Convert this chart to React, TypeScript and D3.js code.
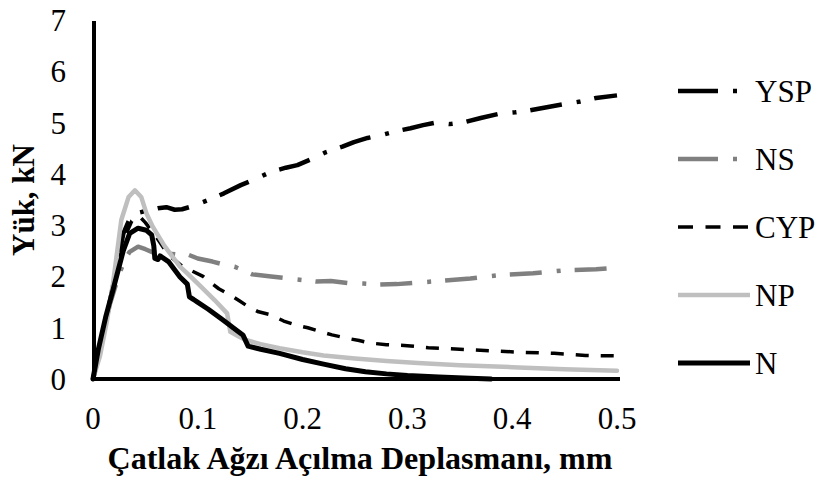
import React from "react";
import * as d3 from "d3";

type Pt = [number, number];

const seriesNames = ["YSP", "NS", "CYP", "NP", "N"];
const xTickValues = [0, 0.1, 0.2, 0.3, 0.4, 0.5];
const xTickLabels = ["0", "0.1", "0.2", "0.3", "0.4", "0.5"];
const yTickValues = [0, 1, 2, 3, 4, 5, 6, 7];
const yTickLabels = ["0", "1", "2", "3", "4", "5", "6", "7"];
const xTitle = "Çatlak Ağzı Açılma Deplasmanı, mm";
const yTitle = "Yük, kN";

const ysp: Pt[] = [
  [0, 0], [0.006, 0.5], [0.012, 1.1], [0.02, 1.9], [0.029, 2.84], [0.035, 3.12], [0.043, 3.24],
  [0.053, 3.29], [0.062, 3.33], [0.07, 3.35], [0.078, 3.3], [0.085, 3.31], [0.095, 3.37], [0.11, 3.49],
  [0.125, 3.62], [0.141, 3.78], [0.155, 3.9], [0.17, 4.04], [0.184, 4.12], [0.195, 4.17], [0.21, 4.3],
  [0.222, 4.42], [0.238, 4.53], [0.249, 4.62], [0.262, 4.7], [0.276, 4.76], [0.289, 4.83], [0.303, 4.89],
  [0.315, 4.95], [0.327, 5.0], [0.34, 4.97], [0.355, 5.01], [0.37, 5.09], [0.387, 5.17], [0.403, 5.2],
  [0.417, 5.24], [0.433, 5.3], [0.45, 5.36], [0.465, 5.41], [0.48, 5.48], [0.5, 5.53],
];

const ns: Pt[] = [
  [0, 0], [0.008, 0.75], [0.016, 1.45], [0.025, 2.05], [0.031, 2.35], [0.035, 2.48], [0.043, 2.58],
  [0.05, 2.53], [0.057, 2.47], [0.065, 2.45], [0.075, 2.44], [0.083, 2.42], [0.09, 2.43], [0.1, 2.35],
  [0.114, 2.29], [0.127, 2.22], [0.135, 2.19], [0.142, 2.13], [0.152, 2.04], [0.17, 2.0], [0.186, 1.96],
  [0.2, 1.93], [0.213, 1.9], [0.227, 1.91], [0.243, 1.87], [0.258, 1.86], [0.273, 1.84], [0.29, 1.85],
  [0.31, 1.88], [0.33, 1.91], [0.36, 1.96], [0.39, 2.03], [0.42, 2.06], [0.45, 2.12], [0.48, 2.14],
  [0.5, 2.17],
];

const cyp: Pt[] = [
  [0, 0], [0.008, 0.75], [0.016, 1.5], [0.024, 2.25], [0.031, 2.8], [0.037, 3.08], [0.044, 3.18],
  [0.05, 3.05], [0.06, 2.78], [0.072, 2.42], [0.085, 2.2], [0.095, 2.1], [0.105, 2.0], [0.111, 1.9],
  [0.12, 1.76], [0.129, 1.66], [0.14, 1.52], [0.149, 1.4], [0.158, 1.31], [0.17, 1.25], [0.182, 1.13],
  [0.194, 1.05], [0.205, 1.0], [0.216, 0.93], [0.228, 0.86], [0.241, 0.8], [0.254, 0.75], [0.265, 0.7],
  [0.28, 0.67], [0.3, 0.65], [0.32, 0.61], [0.35, 0.58], [0.38, 0.55], [0.41, 0.52], [0.44, 0.5],
  [0.47, 0.46], [0.5, 0.45],
];

const np: Pt[] = [
  [0, 0], [0.0067, 0.45], [0.013, 1.1], [0.019, 1.85], [0.027, 3.1], [0.034, 3.55], [0.04, 3.68],
  [0.046, 3.55], [0.051, 3.23], [0.057, 2.97], [0.068, 2.6], [0.083, 2.19], [0.09, 2.06], [0.103, 1.8],
  [0.116, 1.54], [0.128, 1.28], [0.131, 0.92], [0.14, 0.82], [0.146, 0.76], [0.16, 0.68], [0.178, 0.6],
  [0.2, 0.52], [0.22, 0.46], [0.25, 0.4], [0.28, 0.35], [0.31, 0.31], [0.35, 0.27], [0.4, 0.23],
  [0.45, 0.19], [0.5, 0.16],
];

const n: Pt[] = [
  [0, 0], [0.005, 0.57], [0.012, 1.2], [0.019, 1.73], [0.029, 2.51], [0.035, 2.84], [0.043, 2.94],
  [0.051, 2.9], [0.056, 2.81], [0.058, 2.6], [0.059, 2.35], [0.062, 2.33], [0.064, 2.4], [0.072, 2.29],
  [0.083, 1.99], [0.09, 1.85], [0.092, 1.6], [0.096, 1.55], [0.099, 1.51], [0.11, 1.36], [0.124, 1.15],
  [0.135, 0.98], [0.143, 0.86], [0.148, 0.64], [0.16, 0.58], [0.178, 0.5], [0.2, 0.38], [0.22, 0.29],
  [0.241, 0.2], [0.26, 0.14], [0.28, 0.1], [0.3, 0.07], [0.33, 0.04], [0.36, 0.015], [0.38, 0],
];

const seriesData: Pt[][] = [ysp, ns, cyp, np, n];

const styles = [
  { color: "#000000", width: 4.5, dash: "32,15,4,14", legendDash: "40,15,4,100" },
  { color: "#808080", width: 4.5, dash: "32,15,4,14", legendDash: "40,15,4,100" },
  { color: "#000000", width: 3.5, dash: "13,12", legendDash: "15,12.5" },
  { color: "#bfbfbf", width: 4.5, dash: "none", legendDash: "none" },
  { color: "#000000", width: 5, dash: "none", legendDash: "none" },
];

const FONT = "'Liberation Serif', 'Times New Roman', Times, serif";

export default function App() {
  const W = 818;
  const H = 482;
  const x = d3.scaleLinear().domain([0, 0.5]).range([93, 617]);
  const y = d3.scaleLinear().domain([0, 7]).range([379, 20]);
  const line = d3
    .line<Pt>()
    .x((d) => x(d[0]))
    .y((d) => y(d[1]))
    .curve(d3.curveLinear);

  const legendY = [91, 159, 227, 295, 363];

  return (
    <svg
      width={W}
      height={H}
      viewBox={`0 0 ${W} ${H}`}
      style={{ position: "absolute", left: 0, top: 0, background: "#fff" }}
    >
      <rect x={0} y={0} width={W} height={H} fill="#fff" />
      {seriesData.map((d, i) => (
        <path
          key={seriesNames[i]}
          d={line(d) || ""}
          fill="none"
          stroke={styles[i].color}
          strokeWidth={styles[i].width}
          strokeDasharray={styles[i].dash}
          strokeLinejoin="round"
          strokeLinecap={styles[i].dash === "none" ? "round" : "butt"}
        />
      ))}
      <line x1={x(0)} x2={x(0.5) + 3} y1={y(0)} y2={y(0)} stroke="#000" strokeWidth={4} />
      <line x1={x(0) + 1} x2={x(0) + 1} y1={y(7) + 1} y2={y(0) + 2} stroke="#000" strokeWidth={4} />
      {yTickValues.map((v, i) => (
        <text
          key={"yt" + i}
          x={66}
          y={y(v) + 11}
          textAnchor="end"
          fontFamily={FONT}
          fontSize={31}
          fill="#000"
        >
          {yTickLabels[i]}
        </text>
      ))}
      {xTickValues.map((v, i) => (
        <text
          key={"xt" + i}
          x={x(v)}
          y={429}
          textAnchor="middle"
          fontFamily={FONT}
          fontSize={31}
          fill="#000"
        >
          {xTickLabels[i]}
        </text>
      ))}
      <text
        x={360}
        y={469}
        textAnchor="middle"
        fontFamily={FONT}
        fontWeight="bold"
        fontSize={31}
        textLength={505}
        lengthAdjust="spacingAndGlyphs"
        fill="#000"
      >
        {xTitle}
      </text>
      <text
        transform="translate(34,200) rotate(-90)"
        textAnchor="middle"
        fontFamily={FONT}
        fontWeight="bold"
        fontSize={31}
        fill="#000"
      >
        {yTitle}
      </text>
      {seriesNames.map((name, i) => (
        <g key={"lg" + i}>
          <line
            x1={678}
            x2={750}
            y1={legendY[i]}
            y2={legendY[i]}
            stroke={styles[i].color}
            strokeWidth={styles[i].width}
            strokeDasharray={styles[i].legendDash}
          />
          <text x={755} y={legendY[i] + 11} fontFamily={FONT} fontSize={31} fill="#000">
            {name}
          </text>
        </g>
      ))}
    </svg>
  );
}
